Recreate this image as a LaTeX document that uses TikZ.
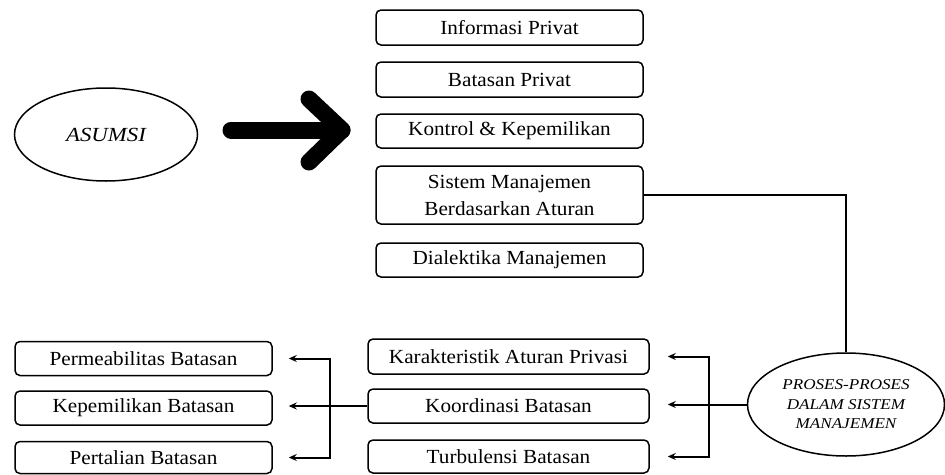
\documentclass[tikz,border=0pt]{standalone}
\usepackage{fontspec}
\setmainfont{Liberation Serif}[FakeStretch=1.06]
\newfontfamily\ellfont{Liberation Serif}[FakeStretch=1.14]
\usetikzlibrary{shapes.geometric,arrows.meta}
\tikzset{
  box/.style={draw, line width=1.5pt, rounded corners=5pt, inner sep=0pt,
    align=center, font=\fontsize{20}{27}\selectfont},
  ell/.style={draw, ellipse, line width=1.5pt, inner sep=0pt, align=center},
  conn/.style={line width=2pt},
  arr/.style={line width=2pt, -{Stealth[length=8pt,width=7pt]}},
  darr/.style={line width=2pt, {Stealth[length=8pt,width=7pt]}-{Stealth[length=8pt,width=7pt]}},
  bigarrow/.style={line width=17pt, line cap=round, line join=round}
}
\begin{document}
\begin{tikzpicture}[x=1pt,y=-1pt]
\useasboundingbox (0,0) rectangle (945,474);
% ellipses
\node[ell, minimum width=183pt, minimum height=93pt, font=\ellfont\fontsize{20}{22}\selectfont\itshape] (asumsi) at (106,134.5) {ASUMSI};
\node[ell, minimum width=197pt, minimum height=103pt, font=\ellfont\fontsize{15}{19.5}\selectfont\itshape] (proses) at (846,404.5) {PROSES-PROSES\\DALAM SISTEM\\MANAJEMEN};
% top boxes
\node[box, minimum width=267pt, minimum height=35pt] (info) at (509.5,27.5) {Informasi Privat};
\node[box, minimum width=267pt, minimum height=35pt] (batas) at (509.5,79.5) {Batasan Privat};
\node[box, minimum width=267pt, minimum height=34pt] (kontrol) at (509.5,131) {Kontrol \& Kepemilikan};
\node[box, minimum width=267pt, minimum height=58pt] (sistem) at (509.5,195) {Sistem Manajemen\\Berdasarkan Aturan};
\node[box, minimum width=267pt, minimum height=34pt] (dial) at (509.5,260) {Dialektika Manajemen};
% bottom middle boxes
\node[box, minimum width=281pt, minimum height=35pt] (kar) at (508.5,356.5) {Karakteristik Aturan Privasi};
\node[box, minimum width=281pt, minimum height=34pt] (koord) at (508.5,406) {Koordinasi Batasan};
\node[box, minimum width=281pt, minimum height=33pt] (turb) at (508.5,456.5) {Turbulensi Batasan};
% bottom left boxes
\node[box, minimum width=257pt, minimum height=34pt] (perm) at (143.5,358.5) {Permeabilitas Batasan};
\node[box, minimum width=257pt, minimum height=34pt] (kep) at (143.5,408) {Kepemilikan Batasan};
\node[box, minimum width=257pt, minimum height=32pt] (pert) at (143.5,457.5) {Pertalian Batasan};
% big arrow
\coordinate (ba1) at (231,130);
\coordinate (ba2) at (342,130);
\coordinate (ba3) at (309,99);
\coordinate (ba4) at (309,162);
\draw[bigarrow] (ba1) -- (ba2);
\draw[bigarrow] (ba3) -- (ba2) -- (ba4);
% connector sistem -> proses
\draw[conn] (sistem.east) -| (proses.north);
% right bracket
\coordinate (rb) at (709,406);
\draw[darr] ([xshift=18pt]kar.east) -| (rb) |- ([xshift=18pt]turb.east);
\draw[arr] (proses.west) -- ([xshift=18pt]koord.east |- proses.west);
% left bracket
\coordinate (lb) at (330,407);
\draw[darr] ([xshift=16pt]perm.east) -| (lb) |- ([xshift=16pt]pert.east);
\draw[arr] (koord.west) -- ([xshift=16pt]kep.east |- koord.west);
\end{tikzpicture}
\end{document}
